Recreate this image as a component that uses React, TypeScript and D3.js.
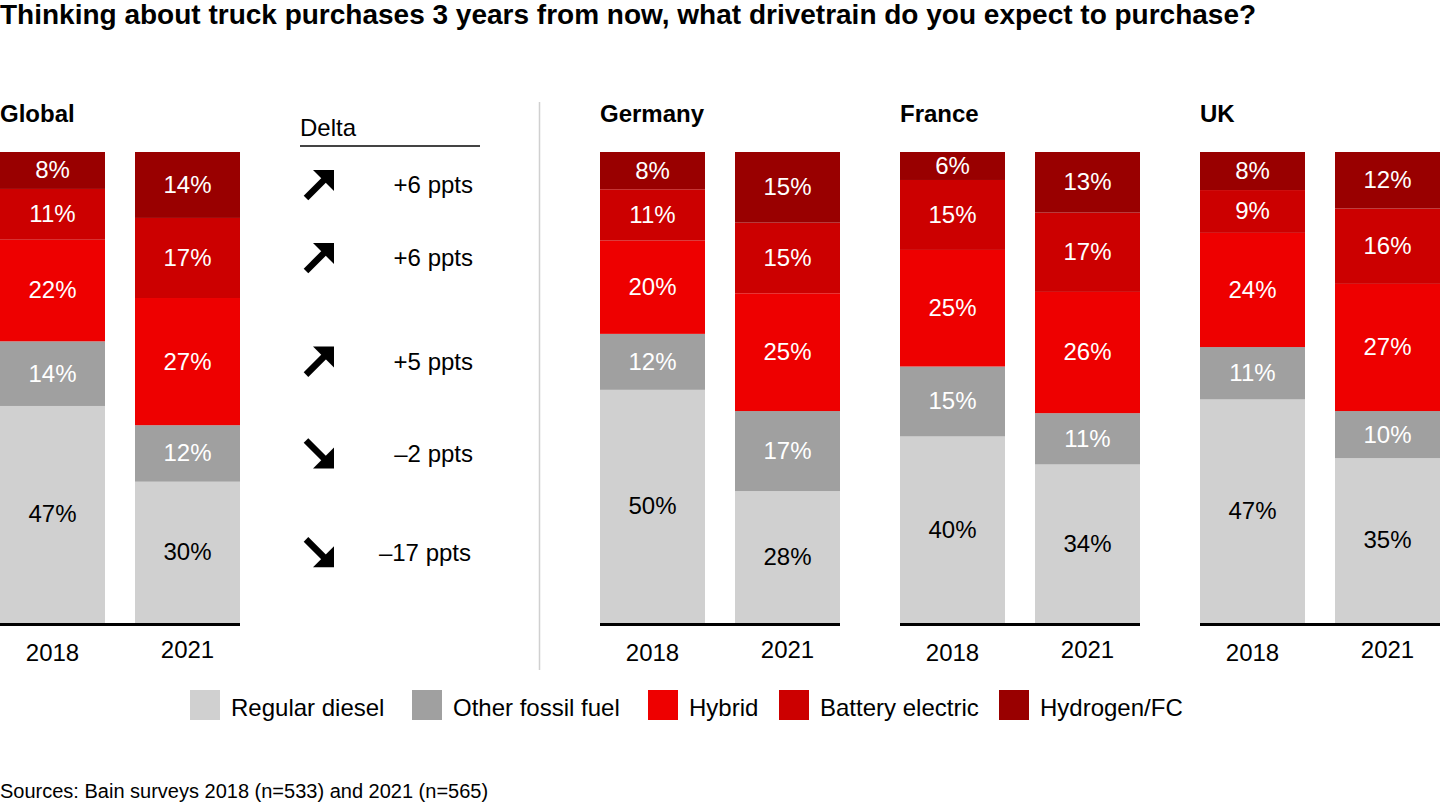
import React from "react";
import * as d3 from "d3";

const title = "Thinking about truck purchases 3 years from now, what drivetrain do you expect to purchase?";
const seriesNames = ["Regular diesel", "Other fossil fuel", "Hybrid", "Battery electric", "Hydrogen/FC"];
const seriesColors = ["#d0d0d0", "#a0a0a0", "#ee0000", "#cc0000", "#990000"];
const labelColors = ["#000000", "#ffffff", "#ffffff", "#ffffff", "#ffffff"];
const regions = ["Global", "Germany", "France", "UK"];
const years = ["2018", "2021"];

// values in order: diesel, other fossil, hybrid, battery electric, hydrogen
const global2018 = [47, 14, 22, 11, 8];
const global2021 = [30, 12, 27, 17, 14];
const germany2018 = [50, 12, 20, 11, 8];
const germany2021 = [28, 17, 25, 15, 15];
const france2018 = [40, 15, 25, 15, 6];
const france2021 = [34, 11, 26, 17, 13];
const uk2018 = [47, 11, 24, 9, 8];
const uk2021 = [35, 10, 27, 16, 12];

const regionValues = [
  [global2018, global2021],
  [germany2018, germany2021],
  [france2018, france2021],
  [uk2018, uk2021],
];

// delta in ppts per series (diesel..hydrogen)
const deltas = [-17, -2, 5, 6, 6];

const sourceNote = "Sources: Bain surveys 2018 (n=533) and 2021 (n=565)";

const FONT = "'Liberation Sans', Arial, Helvetica, sans-serif";

const W = 1440;
const H = 810;
const barTop = 152;
const barBottom = 623;
const panelX = [0, 600, 900, 1200];
const barW = 105;
const barGap = 30;
const legendX = [190, 412, 648, 779, 999];

function stackBar(values: number[]) {
  const keys = values.map((_, i) => String(i));
  const row: Record<string, number> = {};
  values.forEach((v, i) => (row[String(i)] = v));
  const st = d3.stack<Record<string, number>>().keys(keys).offset(d3.stackOffsetExpand)([row]);
  return st.map((s, i) => ({ i, v: values[i], y0: s[0][0], y1: s[0][1] }));
}

const yScale = d3.scaleLinear().domain([0, 1]).range([barBottom, barTop]);

function Arrow({ cx, cy, up }: { cx: number; cy: number; up: boolean }) {
  const s = up ? -1 : 1;
  const x0 = cx - 13, y0 = cy - s * 13;
  const x1 = cx + 9, y1 = cy + s * 9;
  const tip = [cx + 15, cy + s * 15];
  const headA = [cx + 15, cy + s * 15 - s * 21];
  const headB = [cx + 15 - 21, cy + s * 15];
  return (
    <g>
      <line x1={x0} y1={y0} x2={x1} y2={y1} stroke="#000" strokeWidth={6.5} />
      <polygon points={`${tip[0]},${tip[1]} ${headA[0]},${headA[1]} ${headB[0]},${headB[1]}`} fill="#000" />
    </g>
  );
}

function formatDelta(d: number) {
  return (d > 0 ? "+" : "\u2013") + Math.abs(d) + " ppts";
}

export default function App() {
  const globalStack2021 = stackBar(global2021);
  const xBand = d3.scaleOrdinal<string, number>().domain(years).range([0, barW + barGap]);

  return (
    <svg width={W} height={H} style={{ position: "absolute", left: 0, top: 0, background: "#fff" }} fontFamily={FONT}>
      <text x={0} y={24} fontSize={28} fontWeight="bold" fill="#000">{title}</text>

      {regions.map((r, ri) => {
        const px = panelX[ri];
        return (
          <g key={r}>
            <text x={px} y={122} fontSize={24} fontWeight="bold" fill="#000">{r}</text>
            {years.map((yr, yi) => {
              const bx = px + (xBand(yr) as number);
              const segs = stackBar(regionValues[ri][yi]);
              return (
                <g key={yr}>
                  {segs.map((s) => (
                    <rect key={s.i} x={bx} y={yScale(s.y1)} width={barW} height={yScale(s.y0) - yScale(s.y1)} fill={seriesColors[s.i]} />
                  ))}
                  {segs.map((s) => (
                    <text key={"t" + s.i} x={bx + barW / 2} y={(yScale(s.y0) + yScale(s.y1)) / 2} dy="0.33em" textAnchor="middle" fontSize={24} fill={labelColors[s.i]}>
                      {s.v}%
                    </text>
                  ))}
                  <text x={bx + barW / 2} y={yi === 0 ? 661 : 658} textAnchor="middle" fontSize={24} fill="#000">{yr}</text>
                </g>
              );
            })}
            <line x1={px} x2={px + 2 * barW + barGap} y1={624.5} y2={624.5} stroke="#000" strokeWidth={3} />
          </g>
        );
      })}

      {/* Delta column */}
      <text x={300} y={136} fontSize={24} fill="#000">Delta</text>
      <line x1={300} x2={480} y1={146} y2={146} stroke="#444" strokeWidth={2} />
      {globalStack2021.map((s) => {
        const cy = (yScale(s.y0) + yScale(s.y1)) / 2;
        const d = deltas[s.i];
        return (
          <g key={"d" + s.i}>
            <Arrow cx={319} cy={cy} up={d > 0} />
            <text x={d <= -10 ? 471 : 473} y={cy} dy="0.35em" textAnchor="end" fontSize={24} fill="#000">{formatDelta(d)}</text>
          </g>
        );
      })}

      {/* divider */}
      <line x1={539.5} x2={539.5} y1={102} y2={670} stroke="#d0d0d0" strokeWidth={1.5} />

      {/* legend */}
      {seriesNames.map((name, i) => (
        <g key={name}>
          <rect x={legendX[i]} y={690} width={30} height={30} fill={seriesColors[i]} />
          <text x={legendX[i] + 41} y={716} fontSize={24} fill="#000">{name}</text>
        </g>
      ))}

      <text x={0} y={798} fontSize={20} fill="#000">{sourceNote}</text>
    </svg>
  );
}
